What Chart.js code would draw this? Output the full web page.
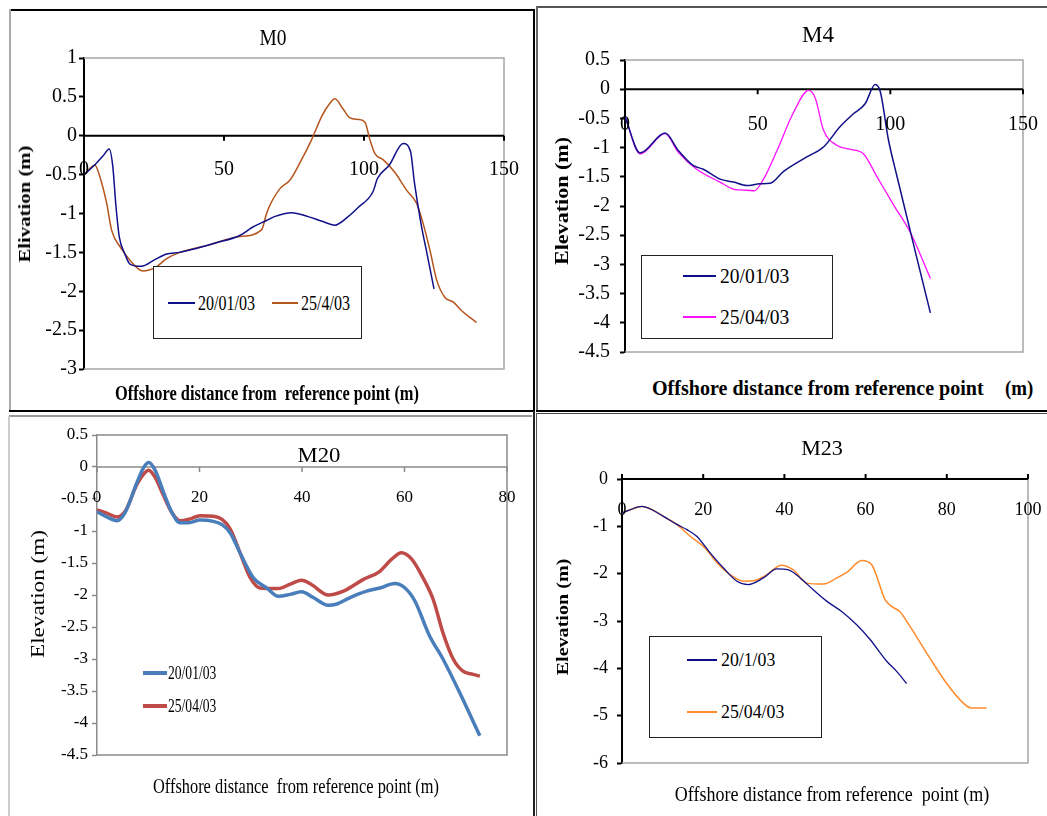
<!DOCTYPE html>
<html>
<head>
<meta charset="utf-8">
<title>Beach profiles M0, M4, M20, M23</title>
<script src="https://cdn.jsdelivr.net/npm/chart.js@4.4.1/dist/chart.umd.min.js"></script>
<style>
  html, body { margin: 0; padding: 0; background: #fff; }
  body { width: 1047px; height: 816px; position: relative; overflow: hidden;
         font-family: "Liberation Serif", "Times New Roman", serif; }
  canvas { position: absolute; }
  .t { position: absolute; white-space: pre; line-height: 1; color: #000; }
  .rule { position: absolute; }
  .lg { position: absolute; box-sizing: border-box; border: 1.5px solid #222; background: #fff; }
  .sw { position: absolute; }
</style>
</head>
<body>
<canvas id="chartM0"></canvas>
<canvas id="chartM4"></canvas>
<canvas id="chartM20"></canvas>
<canvas id="chartM23"></canvas>
<script>
// ---------- Profile M0 ----------
const m0Dist20Jan = [0, 3.7, 7, 9, 10.3, 11.4, 12.6, 14.6, 16.4, 20.5, 25, 29.5, 34, 40, 47, 55.8, 60, 65.2, 68, 74.2, 80, 85, 89.6, 94, 98, 103.2, 104.8, 109, 114, 116.6, 118, 120.4, 122.3, 125];
const m0Elev20Jan = [-0.5, -0.38, -0.25, -0.17, -0.4, -0.9, -1.3, -1.52, -1.65, -1.68, -1.6, -1.52, -1.5, -1.45, -1.38, -1.28, -1.18, -1.09, -1.04, -0.99, -1.04, -1.1, -1.15, -1.05, -0.92, -0.72, -0.55, -0.38, -0.1, -0.2, -0.6, -1.14, -1.48, -1.97];
const m0Dist25Apr = [0, 3.9, 5.7, 8.1, 9.9, 12.9, 16.4, 21, 25.7, 29.5, 34.3, 45, 55, 63.4, 65.2, 66.3, 70, 73.6, 77.1, 81.3, 84.9, 87.9, 89.6, 92.6, 95, 98, 100.4, 102.1, 103.9, 106.9, 111, 115.2, 118.8, 121.2, 123.6, 126, 128.9, 131.9, 134.9, 137.9, 140.2];
const m0Elev25Apr = [-0.5, -0.38, -0.53, -0.87, -1.22, -1.43, -1.6, -1.74, -1.69, -1.58, -1.5, -1.4, -1.3, -1.21, -1.0, -0.9, -0.68, -0.57, -0.35, -0.05, 0.25, 0.42, 0.475, 0.34, 0.23, 0.21, 0.17, -0.05, -0.23, -0.31, -0.47, -0.7, -0.87, -1.14, -1.48, -1.86, -2.08, -2.14, -2.25, -2.34, -2.4];
const m0XTicks = [0, 50, 100, 150];
const m0Labels = ['20/01/03', '25/4/03'];

// ---------- Profile M4 ----------
const m4Dist20Jan = [0, 5.7, 15.1, 20.1, 25.8, 29.5, 35.8, 40.9, 45.9, 50.9, 54.7, 59.7, 68.5, 74.8, 81.1, 86.1, 90.5, 94.3, 96.2, 99.3, 102.5, 108.8, 115.1];
const m4Elev20Jan = [-0.47, -1.09, -0.75, -1.05, -1.31, -1.37, -1.54, -1.59, -1.65, -1.62, -1.61, -1.41, -1.16, -0.99, -0.64, -0.42, -0.25, 0.08, -0.04, -0.87, -1.49, -2.67, -3.83];
const m4Dist25Apr = [0, 5.7, 15.1, 20.1, 27, 35.8, 41.5, 45.9, 48.7, 52.2, 57.2, 63.5, 69.2, 71.7, 74.8, 79.8, 85, 89.9, 95, 101.2, 107.5, 115.1];
const m4Elev25Apr = [-0.47, -1.11, -0.76, -1.08, -1.37, -1.59, -1.72, -1.73, -1.74, -1.54, -1.06, -0.4, -0.02, -0.15, -0.7, -0.96, -1.03, -1.11, -1.5, -1.98, -2.45, -3.24];
const m4XTicks = [0, 50, 100, 150];
const m4Labels = ['20/01/03', '25/04/03'];

// ---------- Profile M20 ----------
const m20Dist20Jan = [0, 1.9, 3.9, 5.5, 7.8, 9.1, 10.1, 11.4, 13, 14.6, 16.2, 17.9, 20.1, 22.7, 24.4, 26, 27.9, 30.5, 33.1, 35.4, 37.7, 39.9, 42.2, 45.1, 46.8, 49.4, 52.6, 55.2, 58.1, 60.1, 62, 64.9, 67.5, 70.8, 74.7];
const m20Elev20Jan = [-0.7, -0.78, -0.84, -0.71, -0.24, -0.01, 0.07, -0.06, -0.4, -0.71, -0.87, -0.87, -0.83, -0.85, -0.9, -1.03, -1.34, -1.73, -1.89, -2.02, -1.99, -1.95, -2.04, -2.16, -2.14, -2.04, -1.94, -1.89, -1.82, -1.89, -2.09, -2.64, -3.0, -3.53, -4.2];
const m20Dist25Apr = [0, 1.9, 3.9, 5.5, 7.8, 9.1, 10.1, 11.4, 13, 14.6, 16.2, 18.2, 20.1, 22.7, 24.4, 26, 27.9, 29.9, 31.8, 35.4, 37.7, 39.9, 41.9, 45.1, 48.1, 51.9, 55.2, 57.5, 59.4, 61.4, 63.6, 65.6, 67.5, 69.5, 71.4, 73.4, 74.7];
const m20Elev25Apr = [-0.67, -0.72, -0.78, -0.69, -0.27, -0.11, -0.05, -0.17, -0.45, -0.71, -0.84, -0.81, -0.76, -0.77, -0.82, -0.97, -1.34, -1.73, -1.89, -1.9, -1.83, -1.77, -1.84, -2.0, -1.94, -1.76, -1.63, -1.44, -1.34, -1.44, -1.73, -2.07, -2.59, -3.0, -3.19, -3.24, -3.27];
const m20XTicks = [0, 20, 40, 60, 80];
const m20Labels = ['20/01/03', '25/04/03'];

// ---------- Profile M23 ----------
const m23Dist20Jan = [0, 2, 4.9, 7.4, 10.2, 13.5, 16, 18.4, 21.7, 25, 28.3, 31.1, 34.8, 38.1, 41, 43.9, 47.1, 50.4, 54.1, 57.8, 61.1, 65.2, 67.6, 70.1];
const m23Elev20Jan = [-0.72, -0.65, -0.58, -0.65, -0.79, -0.96, -1.07, -1.21, -1.56, -1.88, -2.16, -2.23, -2.09, -1.9, -1.92, -2.09, -2.34, -2.58, -2.8, -3.08, -3.39, -3.85, -4.06, -4.32];
const m23Dist25Apr = [0, 2, 4.9, 7.4, 10.2, 13.5, 16.8, 20.5, 23.4, 26.6, 29.9, 32.4, 35.7, 39.3, 42.2, 45.5, 49.6, 52.9, 55.7, 59, 61.5, 64.8, 66.4, 68.4, 70.9, 75.8, 79.9, 84, 86.1, 89.8];
const m23Elev25Apr = [-0.72, -0.65, -0.58, -0.65, -0.79, -0.96, -1.21, -1.46, -1.77, -2.02, -2.16, -2.15, -2.02, -1.82, -1.92, -2.2, -2.22, -2.09, -1.95, -1.72, -1.81, -2.55, -2.69, -2.8, -3.11, -3.78, -4.31, -4.73, -4.84, -4.84];
const m23XTicks = [0, 20, 40, 60, 80, 100];
const m23Labels = ['20/1/03', '25/04/03'];

const SERIF = '"Liberation Serif", "Times New Roman", serif';

// Frame, zero line and distance labels drawn along the y = 0 line
Chart.register({
  id: 'profileFrame',
  beforeDatasetsDraw(chart, args, o) {
    const { ctx, chartArea: a, scales: { x, y } } = chart;
    ctx.save();
    ctx.strokeStyle = o.frameColor;
    ctx.lineWidth = o.frameWidth;
    ctx.beginPath();
    ctx.moveTo(a.left, a.top); ctx.lineTo(a.right, a.top);
    ctx.lineTo(a.right, a.bottom); ctx.lineTo(a.left, a.bottom);
    ctx.stroke();
    const y0 = y.getPixelForValue(0);
    ctx.strokeStyle = o.zeroColor;
    ctx.lineWidth = o.zeroWidth;
    ctx.beginPath();
    ctx.moveTo(a.left, y0); ctx.lineTo(a.right, y0);
    o.ticks.forEach(v => {
      const px = x.getPixelForValue(v);
      ctx.moveTo(px, y0); ctx.lineTo(px, y0 + o.tickDir * 5);
    });
    ctx.stroke();
    ctx.restore();
  },
  afterDraw(chart, args, o) {
    const { ctx, scales: { x, y } } = chart;
    const y0 = y.getPixelForValue(0);
    ctx.save();
    ctx.font = o.labelSize + 'px ' + SERIF;
    ctx.fillStyle = '#000';
    ctx.textAlign = 'center';
    ctx.textBaseline = 'middle';
    o.ticks.forEach(v => ctx.fillText(String(v), x.getPixelForValue(v), y0 + o.labelOffset));
    ctx.restore();
  }
});

function profileChart(id, box, spec) {
  const padL = 70, padT = 20, padR = 28, padB = 20;
  const cv = document.getElementById(id);
  cv.width = box.R - box.L + padL + padR;
  cv.height = box.B - box.T + padT + padB;
  cv.style.left = (box.L - padL) + 'px';
  cv.style.top = (box.T - padT) + 'px';
  return new Chart(cv, {
    type: 'line',
    data: {
      datasets: spec.series.map(s => ({
        label: s.label,
        data: s.x.map((v, i) => ({ x: v, y: s.y[i] })),
        borderColor: s.color,
        borderWidth: s.width,
        pointRadius: 0,
        fill: false,
        cubicInterpolationMode: 'monotone'
      }))
    },
    options: {
      responsive: false,
      animation: false,
      devicePixelRatio: 1,
      events: [],
      layout: { padding: { left: 0, top: padT, right: padR, bottom: padB } },
      plugins: {
        legend: { display: false },
        tooltip: { enabled: false },
        profileFrame: spec.frame
      },
      scales: {
        x: { type: 'linear', min: spec.xMin, max: spec.xMax, display: false },
        y: {
          type: 'linear', min: spec.yMin, max: spec.yMax,
          afterFit: s => { s.width = padL; },
          ticks: {
            stepSize: spec.yStep, autoSkip: false, padding: spec.yPad, color: '#000',
            font: { family: SERIF, size: spec.ySize },
            callback: v => String(Math.round(v * 10) / 10)
          },
          grid: { display: true, drawOnChartArea: false, drawTicks: true, tickLength: 5,
                  tickColor: spec.axisColor, tickWidth: spec.axisWidth },
          border: { display: true, color: spec.axisColor, width: spec.axisWidth }
        }
      }
    }
  });
}

// ---------- text and legend helpers ----------
const measureCtx = document.createElement('canvas').getContext('2d');
function addText(str, x, y, opt) {
  const font = (opt.bold ? 'bold ' : '') + opt.size + 'px ' + SERIF;
  measureCtx.font = font;
  const natural = measureCtx.measureText(str).width;
  const sx = opt.width ? opt.width / natural : 1;
  const el = document.createElement('div');
  el.className = 't';
  el.textContent = str;
  el.style.font = font;
  el.style.left = x + 'px';
  el.style.top = y + 'px';
  if (opt.rotate) {
    el.style.transform = 'translate(-50%,-50%) rotate(-90deg) scaleX(' + sx + ')';
  } else if (opt.align === 'left') {
    el.style.transformOrigin = '0 50%';
    el.style.transform = 'translateY(-50%) scaleX(' + sx + ')';
  } else {
    el.style.transform = 'translate(-50%,-50%) scaleX(' + sx + ')';
  }
  document.body.appendChild(el);
}
function addBox(cls, left, top, w, h, color) {
  const el = document.createElement('div');
  el.className = cls;
  el.style.left = left + 'px'; el.style.top = top + 'px';
  el.style.width = w + 'px'; el.style.height = h + 'px';
  if (color) el.style.background = color;
  document.body.appendChild(el);
  return el;
}
function addLegend(frame, items) {
  if (frame) addBox('lg', frame.left, frame.top, frame.w, frame.h);
  items.forEach(it => {
    addBox('sw', it.x1, Math.round(it.y - it.lw / 2), it.x2 - it.x1, it.lw, it.color);
    addText(it.text, it.tx, it.y, { size: it.size, width: it.tw, align: 'left' });
  });
}

// ---------- panel borders ----------
addBox('rule', 9, 9, 525, 2, '#000');
addBox('rule', 9, 9, 2, 402, '#aaa');
addBox('rule', 533, 9, 2, 403, '#000');
addBox('rule', 9, 410, 525, 2, '#000');
addBox('rule', 536, 6, 511, 2, '#555');
addBox('rule', 536, 6, 2, 405, '#666');
addBox('rule', 536, 410, 511, 2, '#000');
addBox('rule', 536, 413, 511, 1, '#444');
addBox('rule', 9, 415, 523, 1.5, '#999');
addBox('rule', 8, 416, 1.5, 400, '#ccc');
addBox('rule', 533, 411, 2, 405, '#222');
addBox('rule', 536, 413, 1, 403, '#555');

// ---------- M0 ----------
const m0Colors = ['#10108a', '#b5541c'];
profileChart('chartM0', { L: 84, T: 58, R: 504, B: 369 }, {
  xMin: 0, xMax: 150, yMin: -3, yMax: 1, yStep: 0.5, ySize: 20, yPad: 2,
  axisColor: '#000', axisWidth: 2,
  series: [
    { label: m0Labels[0], x: m0Dist20Jan, y: m0Elev20Jan, color: m0Colors[0], width: 1.5 },
    { label: m0Labels[1], x: m0Dist25Apr, y: m0Elev25Apr, color: m0Colors[1], width: 1.5 }
  ],
  frame: { frameColor: '#a6a6a6', frameWidth: 1.5, zeroColor: '#000', zeroWidth: 2,
           ticks: m0XTicks, tickDir: 1, labelSize: 20, labelOffset: 34 }
});
addText('M0', 272.7, 37.5, { size: 23, width: 27 });
addText('Elivation (m)', 25, 203.5, { size: 17, bold: true, width: 117, rotate: true });
addText('Offshore distance from  reference point (m)', 267, 393.3, { size: 20, bold: true, width: 304 });
addLegend({ left: 153, top: 266, w: 209, h: 73 }, [
  { x1: 168, x2: 195, y: 303, lw: 2, color: m0Colors[0], text: m0Labels[0], tx: 198, tw: 57, size: 21 },
  { x1: 272, x2: 298, y: 303, lw: 2, color: m0Colors[1], text: m0Labels[1], tx: 301, tw: 49, size: 21 }
]);

// ---------- M4 ----------
const m4Colors = ['#10108a', '#ff10ff'];
profileChart('chartM4', { L: 625, T: 58, R: 1023, B: 354 }, {
  xMin: 0, xMax: 150, yMin: -4.5, yMax: 0.5, yStep: 0.5, ySize: 20, yPad: 10,
  axisColor: '#000', axisWidth: 2,
  series: [
    { label: m4Labels[0], x: m4Dist20Jan, y: m4Elev20Jan, color: m4Colors[0], width: 1.5 },
    { label: m4Labels[1], x: m4Dist25Apr, y: m4Elev25Apr, color: m4Colors[1], width: 1.3 }
  ],
  frame: { frameColor: '#a6a6a6', frameWidth: 1.5, zeroColor: '#000', zeroWidth: 2,
           ticks: m4XTicks, tickDir: 1, labelSize: 20, labelOffset: 36 }
});
addText('M4', 818, 35, { size: 23, width: 32 });
addText('Elevation (m)', 562, 201, { size: 18, bold: true, width: 128, rotate: true });
addText('Offshore distance from reference point', 651.7, 388.3, { size: 22, bold: true, width: 331.7, align: 'left' });
addText('(m)', 1005, 388.3, { size: 22, bold: true, width: 28.3, align: 'left' });
addLegend({ left: 640.7, top: 255, w: 192.6, h: 84 }, [
  { x1: 683.3, x2: 716, y: 276, lw: 2, color: m4Colors[0], text: m4Labels[0], tx: 720, tw: 69.3, size: 21 },
  { x1: 683.3, x2: 716, y: 316.7, lw: 1.5, color: m4Colors[1], text: m4Labels[1], tx: 720, tw: 69.3, size: 21 }
]);

// ---------- M20 ----------
const m20Colors = ['#4a7ebb', '#be4b48'];
profileChart('chartM20', { L: 97, T: 435, R: 507, B: 755 }, {
  xMin: 0, xMax: 80, yMin: -4.5, yMax: 0.5, yStep: 0.5, ySize: 17, yPad: 4,
  axisColor: '#8a8a8a', axisWidth: 1.5,
  series: [
    { label: m20Labels[0], x: m20Dist20Jan, y: m20Elev20Jan, color: m20Colors[0], width: 3.5 },
    { label: m20Labels[1], x: m20Dist25Apr, y: m20Elev25Apr, color: m20Colors[1], width: 3.5 }
  ],
  frame: { frameColor: '#8a8a8a', frameWidth: 1.5, zeroColor: '#8a8a8a', zeroWidth: 1.5,
           ticks: m20XTicks, tickDir: 1, labelSize: 17, labelOffset: 31 }
});
addText('M20', 319, 455, { size: 22, width: 43 });
addText('Elevation (m)', 38.3, 594, { size: 19, width: 128, rotate: true });
addText('Offshore distance  from reference point (m)', 296.3, 786, { size: 21, width: 286 });
addLegend(null, [
  { x1: 143.3, x2: 166.7, y: 673.3, lw: 4, color: m20Colors[0], text: m20Labels[0], tx: 168.3, tw: 48.3, size: 19 },
  { x1: 143.3, x2: 166.7, y: 706, lw: 4, color: m20Colors[1], text: m20Labels[1], tx: 168.3, tw: 48.3, size: 19 }
]);

// ---------- M23 ----------
const m23Colors = ['#10108a', '#ff8a2a'];
profileChart('chartM23', { L: 622, T: 479, R: 1028, B: 763 }, {
  xMin: 0, xMax: 100, yMin: -6, yMax: 0, yStep: 1, ySize: 18, yPad: 9,
  axisColor: '#000', axisWidth: 2,
  series: [
    { label: m23Labels[0], x: m23Dist20Jan, y: m23Elev20Jan, color: m23Colors[0], width: 1.3 },
    { label: m23Labels[1], x: m23Dist25Apr, y: m23Elev25Apr, color: m23Colors[1], width: 1.5 }
  ],
  frame: { frameColor: '#a6a6a6', frameWidth: 1.5, zeroColor: '#000', zeroWidth: 2,
           ticks: m23XTicks, tickDir: -1, labelSize: 18, labelOffset: 31 }
});
addText('M23', 821.5, 448.3, { size: 22, width: 41.7 });
addText('Elevation (m)', 562.5, 616.7, { size: 17, bold: true, width: 116.7, rotate: true });
addText('Offshore distance from reference  point (m)', 832.2, 794, { size: 20, width: 314.3 });
addLegend({ left: 649.3, top: 635.7, w: 173, h: 102.3 }, [
  { x1: 687.3, x2: 716.7, y: 660, lw: 1.5, color: m23Colors[0], text: m23Labels[0], tx: 720.7, tw: 54.3, size: 19 },
  { x1: 687.3, x2: 716.7, y: 711.7, lw: 2, color: m23Colors[1], text: m23Labels[1], tx: 720.7, tw: 63.3, size: 19 }
]);
</script>
</body>
</html>
